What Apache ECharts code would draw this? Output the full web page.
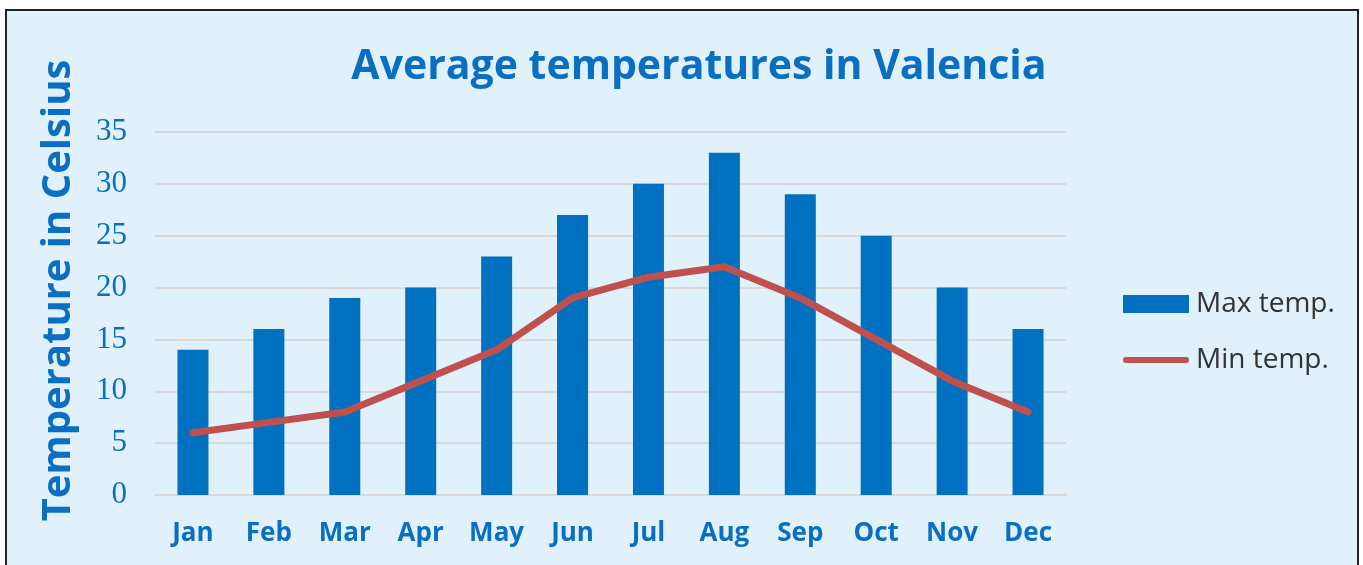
<!DOCTYPE html>
<html><head><meta charset="utf-8">
<script src="https://cdn.jsdelivr.net/npm/echarts@6/dist/echarts.min.js"></script>
<style>
html,body{margin:0;padding:0;background:#fff;width:1363px;height:565px;overflow:hidden;}
#frame{position:absolute;left:5px;top:9px;width:1350px;height:570px;background:#e0f1fb;border:2px solid #222;}
#chart{position:absolute;left:0;top:0;width:1363px;height:565px;}
</style></head><body>
<div id="frame"></div>
<div id="chart"></div>
<script>
const categories = ['Jan','Feb','Mar','Apr','May','Jun','Jul','Aug','Sep','Oct','Nov','Dec'];
const maxTemp = [14,16,19,20,23,27,30,33,29,25,20,16];
const minTemp = [6,7,8,11,14,19,21,22,19,15,11,8];
const seriesNames = ['Max temp.','Min temp.'];

const chart = echarts.init(document.getElementById('chart'));
chart.setOption({
  backgroundColor: 'transparent',
  animation: false,
  title: {
    text: 'Average temperatures in Valencia',
    left: 694, textAlign: 'center', top: 42,
    textStyle: {color:'#0a6fc2', fontSize: 41, fontWeight: 'bold', fontFamily: 'Open Sans'}
  },
  legend: {
    orient: 'vertical', left: 1118, top: 285, itemGap: 28,
    itemWidth: 66, itemHeight: 18,
    textStyle: {color:'#333', fontSize: 28, fontFamily: 'Open Sans', padding:[0,0,0,2]},
    data: [
      {name: seriesNames[0], icon: 'rect'},
      {name: seriesNames[1], icon: 'path://M3,0 L63,0 A3,3 0 0 1 63,6 L3,6 A3,3 0 0 1 3,0 Z', itemStyle:{color:'#c0504d'}}
    ]
  },
  grid: {left: 155, right: 1363-1066, top: 132, bottom: 565-495, containLabel: false},
  xAxis: {
    type: 'category', data: categories,
    axisLine: {show: true, lineStyle: {color: '#d9d9d9', width: 2}},
    axisTick: {show: false},
    axisLabel: {color:'#0a6fc2', fontSize: 26, fontWeight: 'bold', fontFamily: 'Open Sans', margin: 26}
  },
  yAxis: {
    type: 'value', min: 0, max: 35, interval: 5,
    name: 'Temperature in Celsius', nameLocation: 'middle', nameGap: 76, nameRotate: 90,
    nameTextStyle: {color:'#0a6fc2', fontSize: 40, fontWeight: 'bold', fontFamily: 'Open Sans', padding: [0,0,0,46]},
    axisLine: {show: false}, axisTick: {show: false},
    splitLine: {lineStyle: {color: '#d9d9d9', width: 2}},
    axisLabel: {color:'#0a6fc2', fontSize: 31, fontFamily: 'Liberation Serif', margin: 28}
  },
  series: [
    {name: seriesNames[0], type: 'bar', data: maxTemp, barWidth: 31,
     itemStyle: {color: '#0070c0'}},
    {name: seriesNames[1], type: 'line', data: minTemp, symbol: 'none', showSymbol: false,
     lineStyle: {color: '#c0504d', width: 7, cap: 'round', join: 'round'},
     itemStyle: {color: '#c0504d'}}
  ]
});
</script>
</body></html>
